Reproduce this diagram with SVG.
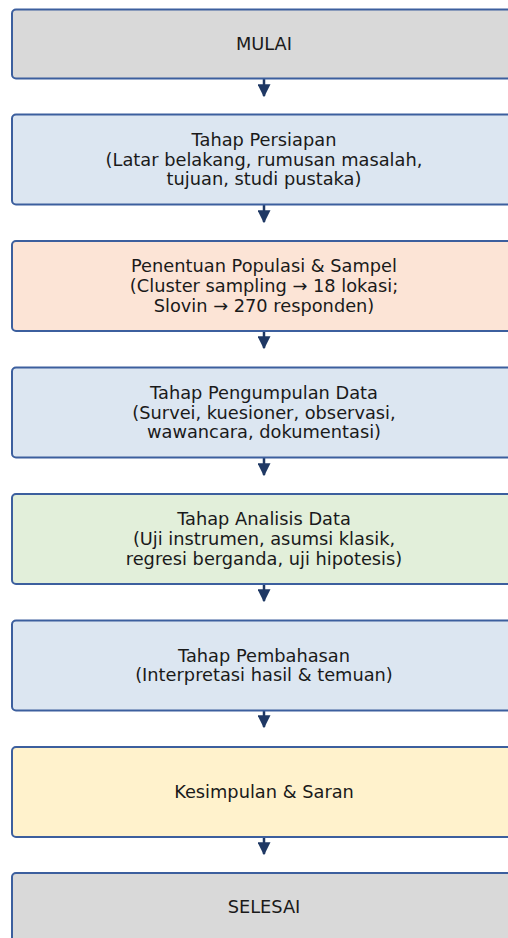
<svg xmlns="http://www.w3.org/2000/svg" width="508" height="938" viewBox="0 0 508 938">
<style>
.box{stroke:#3c5f9e;stroke-width:2}
.t{font-family:"DejaVu Sans",sans-serif;font-size:17.8px;fill:#1a1a1a;text-anchor:middle;dominant-baseline:central}
.c{stroke:#1f3864;stroke-width:2.5;fill:none}
</style>
<defs>
<marker id="ah" viewBox="0 0 10 10" refX="9" refY="5" markerWidth="5.2" markerHeight="5.2" markerUnits="strokeWidth" orient="auto">
<path d="M0,0 L10,5 L0,10 z" fill="#1f3864"/>
</marker>
</defs>
<rect width="508" height="938" fill="#ffffff"/>
<g id="connectors">
<line class="c" x1="264" y1="79" x2="264" y2="96" marker-end="url(#ah)"/>
<line class="c" x1="264" y1="205" x2="264" y2="222" marker-end="url(#ah)"/>
<line class="c" x1="264" y1="331" x2="264" y2="348" marker-end="url(#ah)"/>
<line class="c" x1="264" y1="458" x2="264" y2="475" marker-end="url(#ah)"/>
<line class="c" x1="264" y1="584" x2="264" y2="601" marker-end="url(#ah)"/>
<line class="c" x1="264" y1="710" x2="264" y2="727" marker-end="url(#ah)"/>
<line class="c" x1="264" y1="837" x2="264" y2="854" marker-end="url(#ah)"/>
</g>
<g id="mulai">
<rect class="box" x="12" y="9.5" width="505" height="69" rx="4" fill="#d9d9d9"/>
<text class="t" x="264" y="43.5">MULAI</text>
</g>
<g id="persiapan">
<rect class="box" x="12" y="114.5" width="505" height="90" rx="4" fill="#dce6f1"/>
<text class="t" x="264" y="139.5">Tahap Persiapan</text>
<text class="t" x="264" y="159">(Latar belakang, rumusan masalah,</text>
<text class="t" x="264" y="178.5">tujuan, studi pustaka)</text>
</g>
<g id="populasi">
<rect class="box" x="12" y="241" width="505" height="90" rx="4" fill="#fce4d6"/>
<text class="t" x="264" y="265.5">Penentuan Populasi &amp; Sampel</text>
<text class="t" x="264" y="285.5">(Cluster sampling → 18 lokasi;</text>
<text class="t" x="264" y="305">Slovin → 270 responden)</text>
</g>
<g id="pengumpulan">
<rect class="box" x="12" y="367.5" width="505" height="90" rx="4" fill="#dce6f1"/>
<text class="t" x="264" y="392">Tahap Pengumpulan Data</text>
<text class="t" x="264" y="412">(Survei, kuesioner, observasi,</text>
<text class="t" x="264" y="431.5">wawancara, dokumentasi)</text>
</g>
<g id="analisis">
<rect class="box" x="12" y="494" width="505" height="90" rx="4" fill="#e2efda"/>
<text class="t" x="264" y="518.5">Tahap Analisis Data</text>
<text class="t" x="264" y="538.5">(Uji instrumen, asumsi klasik,</text>
<text class="t" x="264" y="558">regresi berganda, uji hipotesis)</text>
</g>
<g id="pembahasan">
<rect class="box" x="12" y="620.5" width="505" height="90" rx="4" fill="#dce6f1"/>
<text class="t" x="264" y="655">Tahap Pembahasan</text>
<text class="t" x="264" y="674.5">(Interpretasi hasil &amp; temuan)</text>
</g>
<g id="kesimpulan">
<rect class="box" x="12" y="747" width="505" height="90" rx="4" fill="#fff2cc"/>
<text class="t" x="264" y="791">Kesimpulan &amp; Saran</text>
</g>
<g id="selesai">
<rect class="box" x="12" y="873" width="505" height="80" rx="4" fill="#d9d9d9"/>
<text class="t" x="264" y="906.5">SELESAI</text>
</g>
</svg>
